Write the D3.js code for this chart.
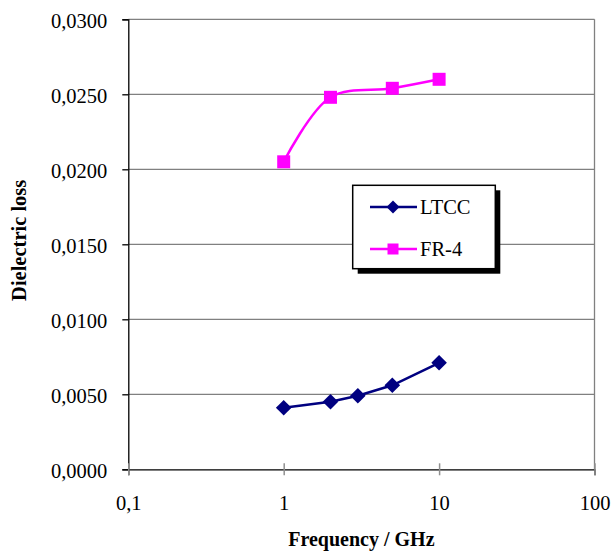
<!DOCTYPE html>
<html>
<head>
<meta charset="utf-8">
<script src="https://cdn.jsdelivr.net/npm/d3@7"></script>
<style>
  body { margin: 0; background: #fff; }
  text { font-family: "Liberation Serif", "Times New Roman", serif; fill: #000; }
</style>
</head>
<body>
<svg id="chart" width="611" height="552"></svg>
<script>
// data
const ltccFreq = [1, 2, 3, 5, 10];
const ltccLoss = [0.0041, 0.0045, 0.0049, 0.0056, 0.0071];
const fr4Freq = [1, 2, 5, 10];
const fr4Loss = [0.0205, 0.0248, 0.0254, 0.0260];
const xTicks = [0.1, 1, 10, 100];
const xTickLabels = ["0,1", "1", "10", "100"];
const yTicks = [0, 0.005, 0.01, 0.015, 0.02, 0.025, 0.03];
const seriesNames = ["LTCC", "FR-4"];

let margin = {top: 19.3, left: 128.3, right: 16.5, bottom: 82.7};
let width = 611 - margin.left - margin.right;
let height = 552 - margin.top - margin.bottom;

let svg = d3.select("#chart");
let g = svg.append("g")
    .attr("transform", "translate(" + margin.left + "," + margin.top + ")");

let xScale = d3.scaleLog().domain([0.1, 100]).range([0, width]);
let yScale = d3.scaleLinear().domain([0, 0.03]).range([height, 0]);

// horizontal grid
g.selectAll(".grid")
    .data(yTicks.slice(1))
    .enter()
    .append("line")
    .attr("x1", 0)
    .attr("x2", width)
    .attr("y1", d => yScale(d))
    .attr("y2", d => yScale(d))
    .attr("stroke", "#808080")
    .attr("stroke-width", 1.3);

// right border
g.append("line")
    .attr("x1", width).attr("x2", width)
    .attr("y1", 0).attr("y2", height)
    .attr("stroke", "#808080")
    .attr("stroke-width", 1.3);

// y axis
let yAxis = d3.axisLeft(yScale)
    .tickValues(yTicks)
    .tickSize(6)
    .tickPadding(15)
    .tickFormat(d => d3.format(".4f")(d).replace(".", ","));
let yg = g.append("g").call(yAxis);
yg.select(".domain").attr("stroke", "#000").attr("stroke-width", 1.3);
yg.selectAll(".tick line").attr("stroke", "#000").attr("stroke-width", 1.3);
yg.selectAll("text")
    .style("font-family", "Liberation Serif")
    .style("font-size", "20.5px")
    .attr("dy", "0.38em");

// x axis
let xAxis = d3.axisBottom(xScale)
    .tickValues(xTicks)
    .tickSize(6)
    .tickPadding(20)
    .tickFormat((d, i) => xTickLabels[i]);
let xg = g.append("g")
    .attr("transform", "translate(0," + height + ")")
    .call(xAxis);
xg.select(".domain").attr("stroke", "#000").attr("stroke-width", 1.3);
xg.selectAll(".tick line")
    .attr("y1", -6)
    .attr("stroke", "#909090")
    .attr("stroke-width", 1.5);
xg.selectAll("text")
    .style("font-family", "Liberation Serif")
    .style("font-size", "20.5px");

// series
let ltcc = ltccFreq.map((f, i) => ({x: f, y: ltccLoss[i]}));
let fr4 = fr4Freq.map((f, i) => ({x: f, y: fr4Loss[i]}));

let straight = d3.line().x(d => xScale(d.x)).y(d => yScale(d.y));
let smooth = d3.line().x(d => xScale(d.x)).y(d => yScale(d.y)).curve(d3.curveCatmullRom.alpha(0.5));

g.append("path")
    .attr("d", straight(ltcc))
    .attr("fill", "none")
    .attr("stroke", "#000080")
    .attr("stroke-width", 2.5);

g.append("path")
    .attr("d", smooth(fr4))
    .attr("fill", "none")
    .attr("stroke", "#FF00FF")
    .attr("stroke-width", 2.5);

let diamond = s => "M0," + (-s) + "L" + s + ",0L0," + s + "L" + (-s) + ",0Z";

g.selectAll(".ltccPt")
    .data(ltcc)
    .enter()
    .append("path")
    .attr("d", diamond(7.8))
    .attr("transform", d => "translate(" + xScale(d.x) + "," + yScale(d.y) + ")")
    .attr("fill", "#000080");

g.selectAll(".fr4Pt")
    .data(fr4)
    .enter()
    .append("rect")
    .attr("x", d => xScale(d.x) - 6.5)
    .attr("y", d => yScale(d.y) - 6.5)
    .attr("width", 13)
    .attr("height", 13)
    .attr("fill", "#FF00FF");

// legend
let lx = 352.7, ly = 185.3, lw = 142.6, lh = 83.4;
svg.append("rect")
    .attr("x", lx + 5).attr("y", ly + 5)
    .attr("width", lw).attr("height", lh)
    .attr("fill", "#000");
svg.append("rect")
    .attr("x", lx).attr("y", ly)
    .attr("width", lw).attr("height", lh)
    .attr("fill", "#fff")
    .attr("stroke", "#000")
    .attr("stroke-width", 1.5);

let legendY = [207, 249];
let legendColors = ["#000080", "#FF00FF"];
seriesNames.forEach(function (name, i) {
    svg.append("line")
        .attr("x1", 370).attr("x2", 417)
        .attr("y1", legendY[i]).attr("y2", legendY[i])
        .attr("stroke", legendColors[i])
        .attr("stroke-width", 2.5);
    if (i == 0)
        svg.append("path")
            .attr("d", diamond(6.5))
            .attr("transform", "translate(393," + legendY[i] + ")")
            .attr("fill", legendColors[i]);
    else
        svg.append("rect")
            .attr("x", 387.5).attr("y", legendY[i] - 5.5)
            .attr("width", 11).attr("height", 11)
            .attr("fill", legendColors[i]);
    svg.append("text")
        .attr("x", 420)
        .attr("y", legendY[i] + 7)
        .style("font-size", "20.5px")
        .text(name);
});

// axis titles
svg.append("text")
    .attr("x", margin.left + width / 2)
    .attr("y", 546)
    .attr("text-anchor", "middle")
    .style("font-size", "20px")
    .style("font-weight", "bold")
    .text("Frequency / GHz");

svg.append("text")
    .attr("transform", "translate(26," + (margin.top + height / 2 - 4) + ") rotate(-90)")
    .attr("text-anchor", "middle")
    .style("font-size", "20.5px")
    .style("font-weight", "bold")
    .text("Dielectric loss");
</script>
</body>
</html>
